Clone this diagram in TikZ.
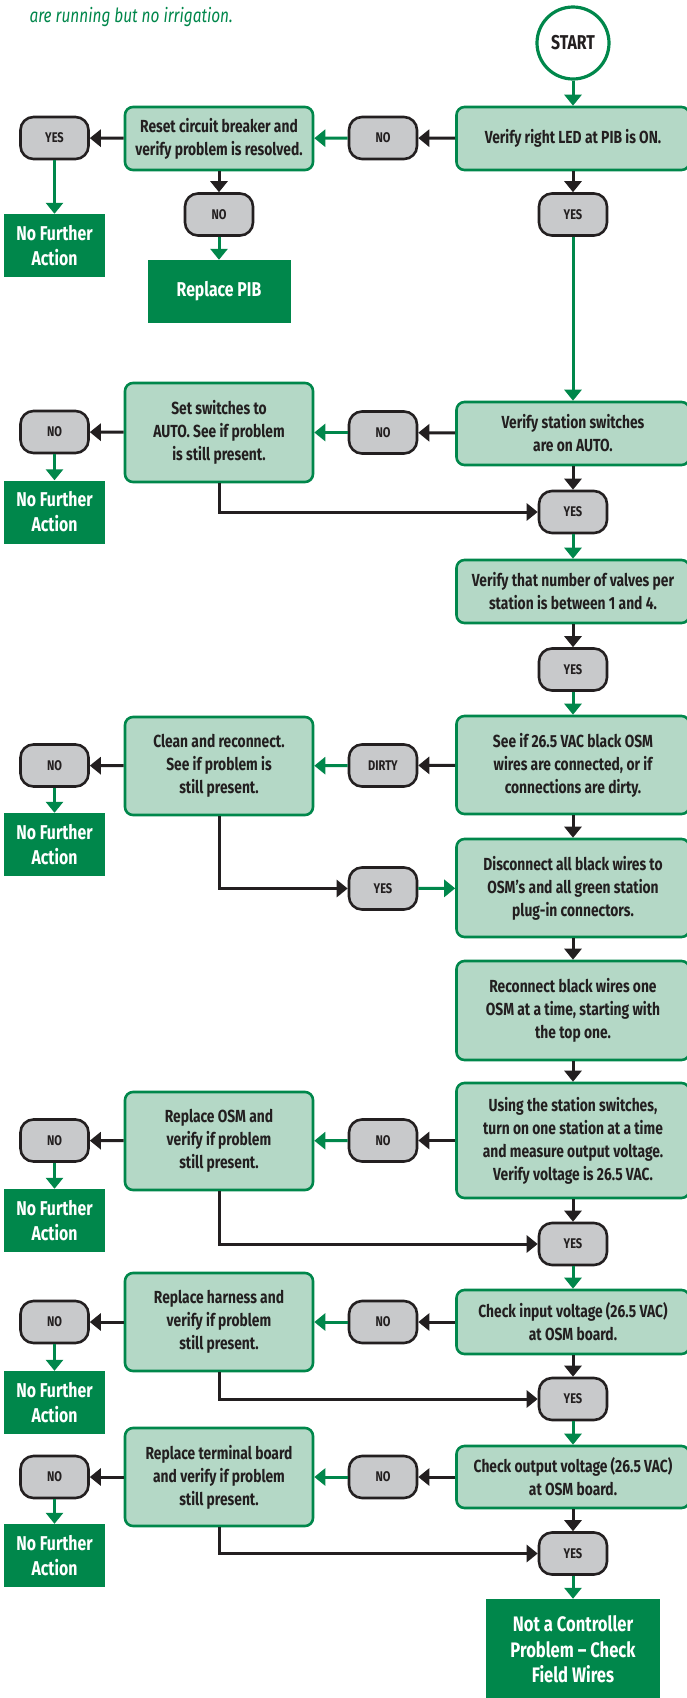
\documentclass[tikz,border=0pt]{standalone}
\usepackage{fontspec}
\setmainfont{Fira Sans}[FakeStretch=0.79]
\usetikzlibrary{arrows.meta}
\definecolor{rbgreen}{RGB}{0,135,75}
\definecolor{rbpale}{RGB}{180,216,198}
\definecolor{rbgrey}{RGB}{200,201,203}
\definecolor{rbdark}{RGB}{35,31,32}
\begin{document}
\begin{tikzpicture}[x=1pt,y=-1pt,
  font=\bfseries\fontsize{17.5}{23}\selectfont,text=rbdark,
  check/.style={draw=rbgreen,fill=rbpale,line width=2.6pt,rounded corners=8pt,
    align=center,inner sep=0pt,minimum width=233pt,minimum height=#1},
  check/.default=63pt,
  fix/.style={check=#1,minimum width=188pt},
  fix/.default=98pt,
  pill/.style={draw=rbdark,fill=rbgrey,line width=2.6pt,rounded corners=13pt,
    inner sep=0pt,minimum width=68pt,minimum height=42pt,
    font=\bfseries\fontsize{14}{16}\selectfont},
  done/.style={fill=rbgreen,text=white,align=center,inner sep=0pt,
    minimum width=101pt,minimum height=63pt,font=\bfseries\fontsize{20}{25}\selectfont},
  karr/.style={draw=rbdark,line width=3pt,-{Triangle[width=17pt,length=11pt]}},
  garr/.style={draw=rbgreen,line width=3pt,-{Triangle[width=17pt,length=11pt]}}]
\useasboundingbox (0,0) rectangle (687,1698);
\fill[white] (0,0) rectangle (687,1698);
\node[anchor=base west,text=rbgreen,font=\mdseries\itshape\fontsize{19.5}{22}\selectfont] (sub) at (26,22) {are running but no irrigation.};

\node[circle,draw=rbgreen,fill=white,line width=3.2pt,minimum size=72pt,inner sep=0pt,font=\bfseries\fontsize{20}{22}\selectfont] (start) at (573,43) {START};
\node[check] (led) at (573,138.5) {Verify right LED at PIB is ON.};
\node[pill] (no1) at (383,138) {NO};
\node[fix=63pt] (reset) at (219,138.5) {Reset circuit breaker and\\verify problem is resolved.};
\node[pill] (yes1l) at (54.5,138) {YES};
\node[done] (nfa1) at (54.5,245.5) {No Further\\Action};
\node[pill] (no1b) at (219,214.5) {NO};
\node[done,minimum width=143pt] (pib) at (219,291.5) {Replace PIB};
\node[pill] (yes1) at (573,214.5) {YES};

\node[check] (auto) at (573,433.5) {Verify station switches\\are on AUTO.};
\node[pill] (no2) at (383,432.5) {NO};
\node[fix=99pt] (setsw) at (219,432.5) {Set switches to\\AUTO. See if problem\\is still present.};
\node[pill] (no2l) at (54.5,432) {NO};
\node[done] (nfa2) at (54.5,512) {No Further\\Action};
\node[pill] (yes2) at (573,512) {YES};
\node[check] (valves) at (573,591.5) {Verify that number of valves per\\station is between 1 and 4.};
\node[pill] (yes3) at (573,669.5) {YES};

\node[check=98pt] (osm) at (573,765) {See if 26.5 VAC black OSM\\wires are connected, or if\\connections are dirty.};
\node[pill] (dirty) at (383,765.5) {DIRTY};
\node[fix] (clean) at (219,766) {Clean and reconnect.\\See if problem is\\still present.};
\node[pill] (no3l) at (54.5,765.5) {NO};
\node[done] (nfa3) at (54.5,844.5) {No Further\\Action};
\node[pill] (yes4) at (383,888.5) {YES};
\node[check=98pt] (disc) at (573,888) {Disconnect all black wires to\\OSM’s and all green station\\plug-in connectors.};
\node[check=99pt] (reconn) at (573,1010.5) {Reconnect black wires one\\OSM at a time, starting with\\the top one.};

\node[check=115pt] (using) at (573,1140.5) {Using the station switches,\\turn on one station at a time\\and measure output voltage.\\Verify voltage is 26.5 VAC.};
\node[pill] (no4) at (383,1140.5) {NO};
\node[fix] (osmfix) at (219,1141) {Replace OSM and\\verify if problem\\still present.};
\node[pill] (no4l) at (54.5,1140.5) {NO};
\node[done] (nfa4) at (54.5,1220.5) {No Further\\Action};
\node[pill] (yes5) at (573,1244) {YES};

\node[check=64pt] (input) at (573,1322) {Check input voltage (26.5 VAC)\\at OSM board.};
\node[pill] (no5) at (383,1322) {NO};
\node[fix] (harness) at (219,1322) {Replace harness and\\verify if problem\\still present.};
\node[pill] (no5l) at (54.5,1322) {NO};
\node[done] (nfa5) at (54.5,1402.5) {No Further\\Action};
\node[pill] (yes6) at (573,1399) {YES};

\node[check=62pt] (output) at (573,1477) {Check output voltage (26.5 VAC)\\at OSM board.};
\node[pill] (no6) at (383,1477) {NO};
\node[fix] (board) at (219,1477) {Replace terminal board\\and verify if problem\\still present.};
\node[pill] (no6l) at (54.5,1477) {NO};
\node[done] (nfa6) at (54.5,1555.5) {No Further\\Action};
\node[pill] (yes7) at (573,1553.5) {YES};
\node[done,minimum width=174pt,minimum height=101pt,font=\bfseries\fontsize{21}{25.5}\selectfont] (field) at (573,1649.5) {Not a Controller\\Problem – Check\\Field Wires};

\draw[garr] (start) -- (led);
\draw[karr] (led) -- (no1);
\draw[garr] (no1) -- (reset);
\draw[karr] (reset) -- (yes1l);
\draw[garr] (yes1l) -- (nfa1);
\draw[karr] (reset) -- (no1b);
\draw[garr] (no1b) -- (pib);
\draw[karr] (led) -- (yes1);
\draw[garr] (yes1) -- (auto);

\draw[karr] (auto) -- (no2);
\draw[garr] (no2) -- (setsw);
\draw[karr] (setsw) -- (no2l);
\draw[garr] (no2l) -- (nfa2);
\draw[karr] (setsw.south) |- (yes2.west);
\draw[karr] (auto) -- (yes2);
\draw[garr] (yes2) -- (valves);
\draw[karr] (valves) -- (yes3);
\draw[garr] (yes3) -- (osm);

\draw[karr] (osm) -- (dirty);
\draw[garr] (dirty) -- (clean);
\draw[karr] (clean) -- (no3l);
\draw[garr] (no3l) -- (nfa3);
\draw[karr] (clean.south) |- (yes4.west);
\draw[garr] (yes4) -- (disc);
\draw[karr] (osm) -- (disc);
\draw[karr] (disc) -- (reconn);
\draw[karr] (reconn) -- (using);

\draw[karr] (using) -- (no4);
\draw[garr] (no4) -- (osmfix);
\draw[karr] (osmfix) -- (no4l);
\draw[garr] (no4l) -- (nfa4);
\draw[karr] (osmfix.south) |- (yes5.west);
\draw[karr] (using) -- (yes5);
\draw[garr] (yes5) -- (input);

\draw[karr] (input) -- (no5);
\draw[garr] (no5) -- (harness);
\draw[karr] (harness) -- (no5l);
\draw[garr] (no5l) -- (nfa5);
\draw[karr] (harness.south) |- (yes6.west);
\draw[karr] (input) -- (yes6);
\draw[garr] (yes6) -- (output);

\draw[karr] (output) -- (no6);
\draw[garr] (no6) -- (board);
\draw[karr] (board) -- (no6l);
\draw[garr] (no6l) -- (nfa6);
\draw[karr] (board.south) |- (yes7.west);
\draw[karr] (output) -- (yes7);
\draw[garr] (yes7) -- (field);
\end{tikzpicture}
\end{document}
